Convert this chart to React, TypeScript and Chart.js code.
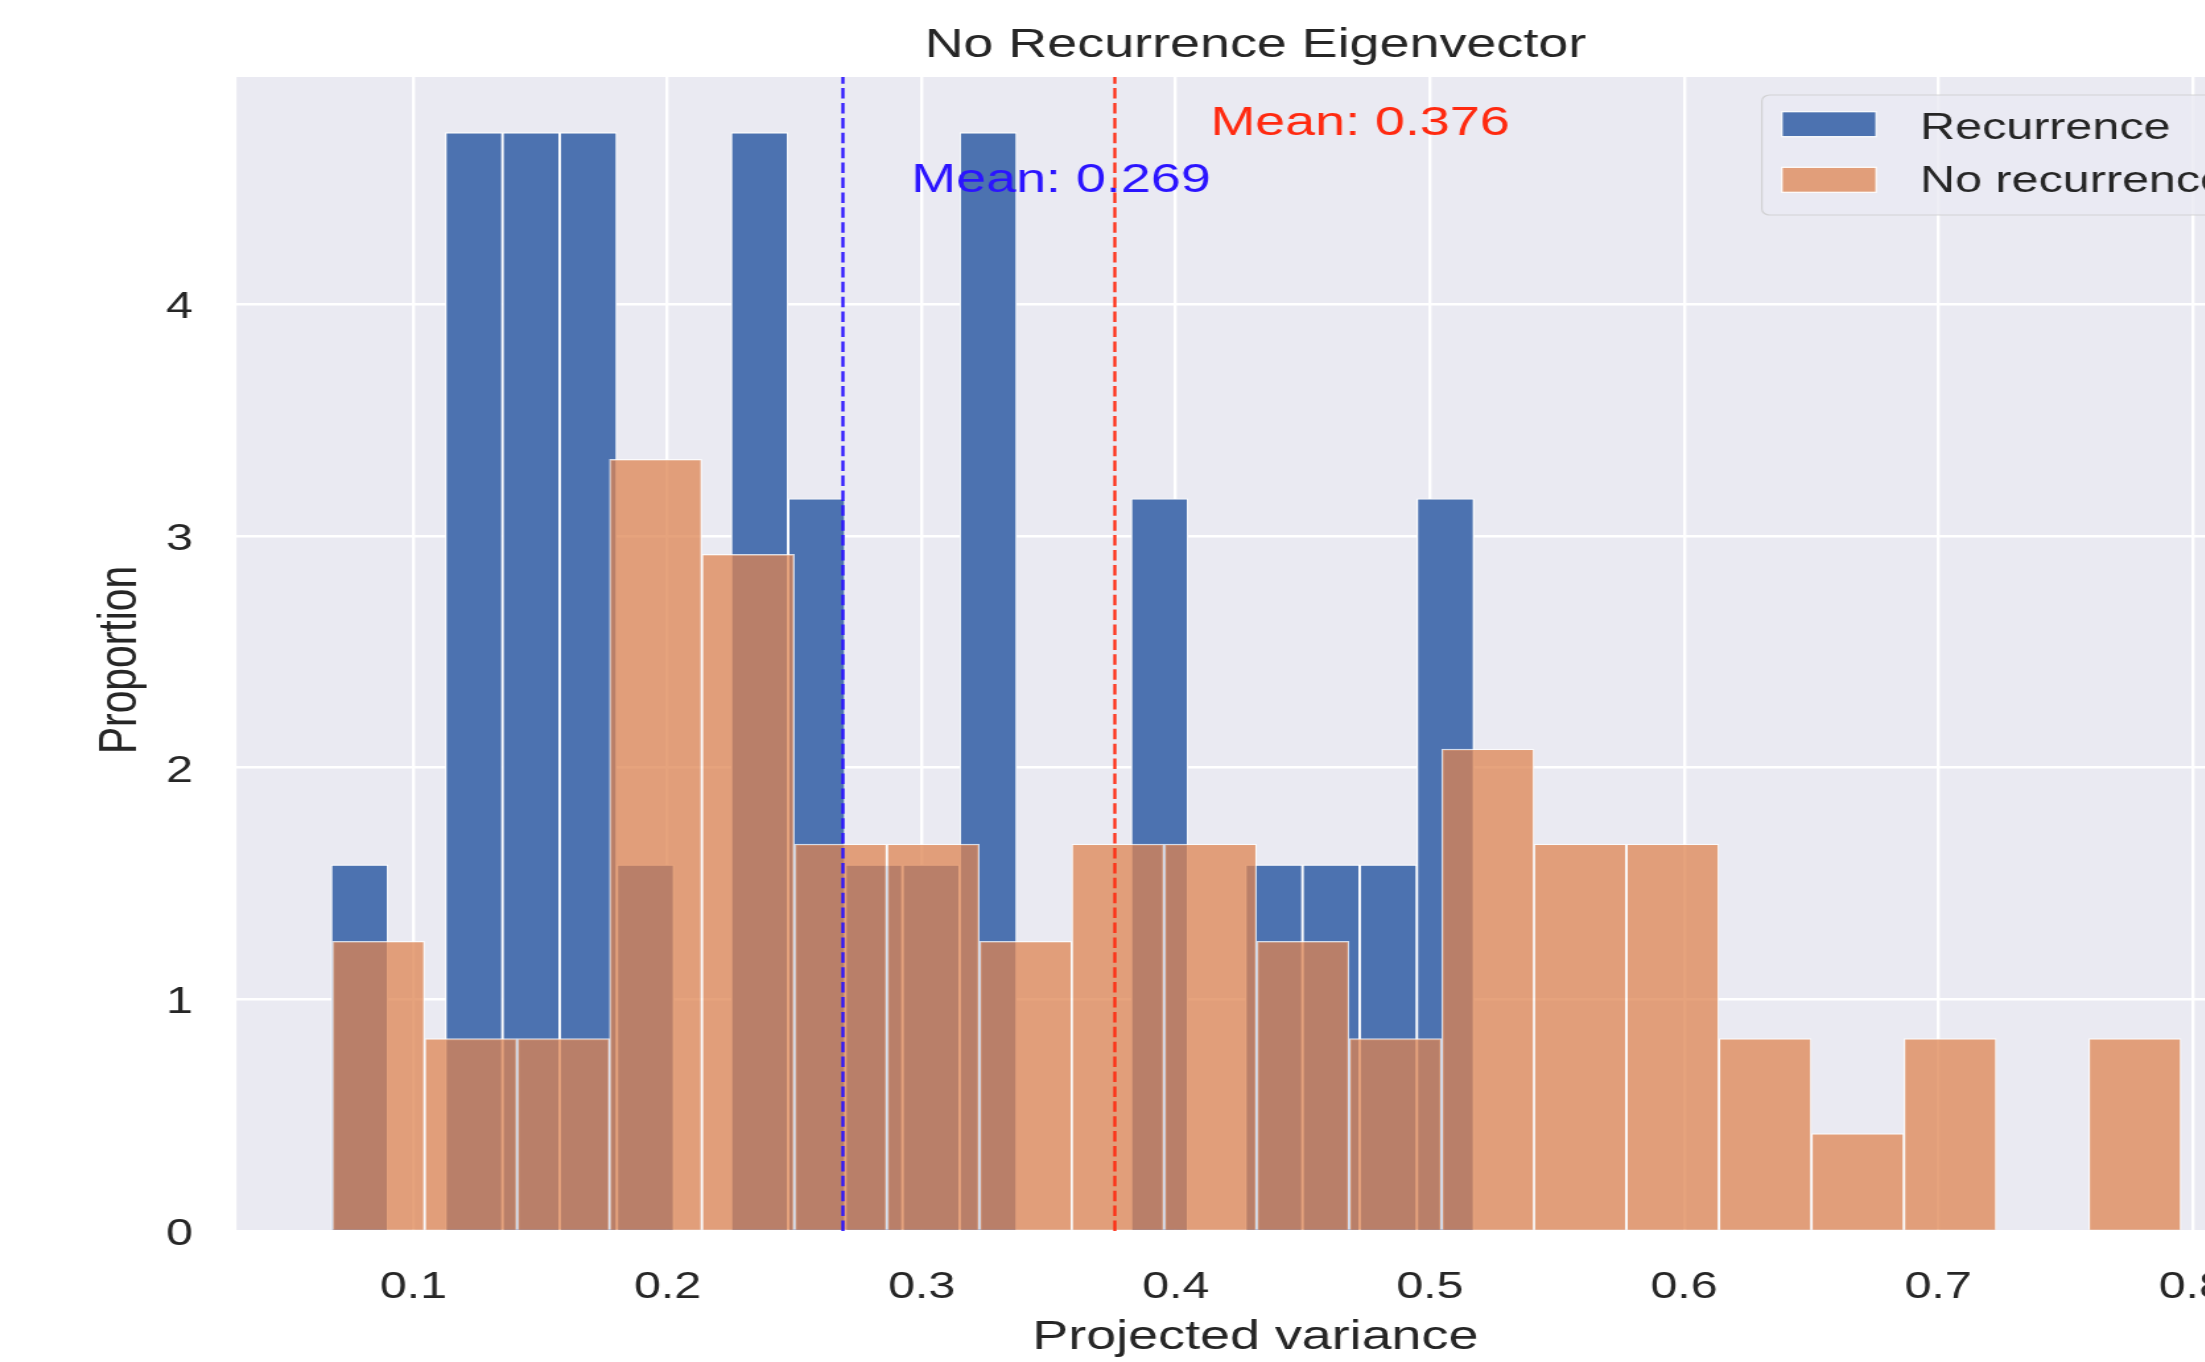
import React, { useEffect, useRef } from "react";
import { Chart, registerables } from "chart.js";

Chart.register(...registerables);

// ---------- data ----------
const chartTitle = "No Recurrence Eigenvector";
const xAxisLabel = "Projected variance";
const yAxisLabel = "Proportion";
const seriesNames = ["Recurrence", "No recurrence"];

// bin centres (Projected variance) and heights (density) per group
const recurrenceBinCenters = [
  0.0788, 0.1013, 0.1238, 0.1463, 0.1688, 0.1913, 0.2138, 0.2362, 0.2587, 0.2812,
  0.3037, 0.3262, 0.3487, 0.3711, 0.3936, 0.4161, 0.4386, 0.4611, 0.4836, 0.5061,
];
const recurrenceDensity = [
  1.58, 0, 4.74, 4.74, 4.74, 1.58, 0, 4.74, 3.16, 1.58,
  1.58, 4.74, 0, 0, 3.16, 0, 1.58, 1.58, 1.58, 3.16,
];
const noRecurrenceBinCenters = [
  0.0862, 0.1226, 0.159, 0.1953, 0.2317, 0.2681, 0.3045, 0.3409, 0.3772, 0.4136,
  0.45, 0.4864, 0.5228, 0.5591, 0.5955, 0.6319, 0.6683, 0.7047, 0.741, 0.7774,
];
const noRecurrenceDensity = [
  1.25, 0.83, 0.83, 3.33, 2.92, 1.67, 1.67, 1.25, 1.67, 1.67,
  1.25, 0.83, 2.08, 1.67, 1.67, 0.83, 0.42, 0.83, 0, 0.83,
];
const meanRecurrence = 0.269;
const meanNoRecurrence = 0.376;

const xRange = [0.0304, 0.8322];
const yRange = [0, 4.98];
const xTickStep = 0.1;
const yTickStep = 1;

// ---------- style ----------
const STRETCH = 1.32; // the reference is stretched horizontally
const CW = 1740;
const CH = 1362;
const FONT = "'Liberation Sans', Arial, Helvetica, sans-serif";
const BIG = 40.8;
const SMALL = 36.7;
const TEXT = "#262626";
const BLUE = "#4C72B0";
const ORANGE = "rgba(221,132,82,0.75)";
const MEAN_BLUE = "#2b14ff";
const MEAN_RED = "#ff2a10";

const bgPlugin = {
  id: "bgPlugin",
  beforeDraw(chart: any) {
    const { ctx, chartArea: ca } = chart;
    ctx.save();
    ctx.fillStyle = "#ffffff";
    ctx.fillRect(0, 0, chart.width, chart.height);
    ctx.fillStyle = "#EAEAF2";
    ctx.fillRect(ca.left, ca.top, ca.right - ca.left, ca.bottom - ca.top);
    ctx.restore();
  },
};

const decorPlugin = {
  id: "decorPlugin",
  afterDraw(chart: any) {
    const { ctx, chartArea: ca } = chart;
    const xs = chart.scales.x;
    const ys = chart.scales.y;
    const cx = (ca.left + ca.right) / 2;
    ctx.save();

    // mean lines + labels
    const drawMean = (mean: number, color: string, frac: number) => {
      const px = xs.getPixelForValue(mean);
      ctx.save();
      ctx.beginPath();
      ctx.rect(ca.left, ca.top, ca.right - ca.left, ca.bottom - ca.top);
      ctx.clip();
      ctx.strokeStyle = color;
      ctx.lineWidth = 2.3;
      ctx.setLineDash([10.5, 4.4]);
      ctx.beginPath();
      ctx.moveTo(px, ca.bottom);
      ctx.lineTo(px, ca.top);
      ctx.stroke();
      ctx.restore();
      ctx.fillStyle = color;
      ctx.font = `${BIG}px ${FONT}`;
      ctx.textAlign = "left";
      ctx.textBaseline = "alphabetic";
      ctx.fillText(
        `Mean: ${mean.toFixed(3)}`,
        xs.getPixelForValue(mean * 1.1),
        ys.getPixelForValue(yRange[1] * frac)
      );
    };
    drawMean(meanRecurrence, MEAN_BLUE, 0.9);
    drawMean(meanNoRecurrence, MEAN_RED, 0.95);

    // title
    ctx.fillStyle = TEXT;
    ctx.font = `${BIG}px ${FONT}`;
    ctx.textAlign = "center";
    ctx.textBaseline = "alphabetic";
    ctx.fillText(chartTitle, cx, ca.top - 20);

    // x label
    ctx.fillText(xAxisLabel, cx, 1349);

    // y label
    ctx.save();
    ctx.translate(103, 660);
    ctx.rotate(-Math.PI / 2);
    ctx.fillText(yAxisLabel, 0, 0);
    ctx.restore();

    // legend
    const fl = ca.right - 388.1;
    const fr = ca.right - 18.3;
    const ft = ca.top + 18;
    const fb = ca.top + 138;
    const r = 6;
    ctx.beginPath();
    ctx.moveTo(fl + r, ft);
    ctx.lineTo(fr - r, ft);
    ctx.arcTo(fr, ft, fr, ft + r, r);
    ctx.lineTo(fr, fb - r);
    ctx.arcTo(fr, fb, fr - r, fb, r);
    ctx.lineTo(fl + r, fb);
    ctx.arcTo(fl, fb, fl, fb - r, r);
    ctx.lineTo(fl, ft + r);
    ctx.arcTo(fl, ft, fl + r, ft, r);
    ctx.closePath();
    ctx.fillStyle = "rgba(234,234,242,0.8)";
    ctx.fill();
    ctx.strokeStyle = "rgba(204,204,204,0.8)";
    ctx.lineWidth = 1.2;
    ctx.stroke();

    const colors = [BLUE, ORANGE];
    const patchL = fl + 15.2;
    const patchW = 71.4;
    const rows = [ft + 16.7, ft + 72.3];
    const textBase = [ft + 44.3, ft + 97];
    ctx.font = `${SMALL}px ${FONT}`;
    ctx.textAlign = "left";
    for (let i = 0; i < 2; i++) {
      ctx.fillStyle = colors[i];
      ctx.fillRect(patchL, rows[i], patchW, 25);
      ctx.strokeStyle = "#ffffff";
      ctx.lineWidth = 1.2;
      ctx.strokeRect(patchL, rows[i], patchW, 25);
      ctx.fillStyle = TEXT;
      ctx.fillText(seriesNames[i], fl + 119.9, textBase[i]);
    }
    ctx.restore();
  },
};

export default function App() {
  const ref = useRef<HTMLCanvasElement>(null);

  useEffect(() => {
    document.body.style.margin = "0";
    document.body.style.overflow = "hidden";
    const canvas = ref.current!;
    const tickFont = { family: FONT, size: SMALL };
    const chart = new Chart(canvas, {
      type: "bar",
      data: {
        datasets: [
          {
            label: seriesNames[0],
            data: recurrenceBinCenters.map((x, i) => ({ x, y: recurrenceDensity[i] })),
            xAxisID: "x2",
            yAxisID: "y",
            backgroundColor: BLUE,
            borderColor: "#ffffff",
            borderWidth: 1.2,
            barPercentage: 1,
            categoryPercentage: 1,
            grouped: false,
            order: 2,
          } as any,
          {
            label: seriesNames[1],
            data: noRecurrenceBinCenters.map((x, i) => ({ x, y: noRecurrenceDensity[i] })),
            xAxisID: "x",
            yAxisID: "y",
            backgroundColor: ORANGE,
            borderColor: "rgba(255,255,255,0.75)",
            borderWidth: 1.2,
            barPercentage: 1,
            categoryPercentage: 1,
            grouped: false,
            order: 1,
          } as any,
        ],
      },
      options: {
        animation: false,
        responsive: false,
        maintainAspectRatio: false,
        devicePixelRatio: 1,
        layout: { padding: { top: 77, right: 17.3, bottom: 0, left: 0 } },
        plugins: {
          legend: { display: false },
          title: { display: false },
          tooltip: { enabled: false },
        },
        scales: {
          x: {
            type: "linear",
            position: "bottom",
            min: xRange[0],
            max: xRange[1],
            offset: false,
            border: { display: false },
            grid: { color: "#ffffff", lineWidth: 2.4, drawTicks: false, offset: false },
            ticks: {
              stepSize: xTickStep,
              includeBounds: false,
              padding: 35,
              maxRotation: 0,
              autoSkip: false,
              color: TEXT,
              font: tickFont,
            },
            afterFit: (s: any) => {
              s.height = 131;
            },
          } as any,
          x2: {
            type: "linear",
            position: "bottom",
            display: false,
            min: xRange[0],
            max: xRange[1],
            offset: false,
            grid: { offset: false },
            ticks: { stepSize: xTickStep, includeBounds: false },
          } as any,
          y: {
            type: "linear",
            min: yRange[0],
            max: yRange[1],
            border: { display: false },
            grid: { color: "#ffffff", lineWidth: 2.4, drawTicks: false },
            ticks: {
              stepSize: yTickStep,
              includeBounds: false,
              padding: 33,
              labelOffset: 4,
              color: TEXT,
              font: tickFont,
            },
            afterFit: (s: any) => {
              s.width = 179.2;
            },
          } as any,
        },
      },
      plugins: [bgPlugin, decorPlugin],
    });
    return () => chart.destroy();
  }, []);

  return (
    <div
      style={{
        position: "absolute",
        left: 0,
        top: 0,
        width: 2205,
        height: 1362,
        overflow: "hidden",
        background: "#ffffff",
      }}
    >
      <canvas
        ref={ref}
        width={CW}
        height={CH}
        style={{ width: `${CW * STRETCH}px`, height: `${CH}px`, display: "block" }}
      />
    </div>
  );
}
